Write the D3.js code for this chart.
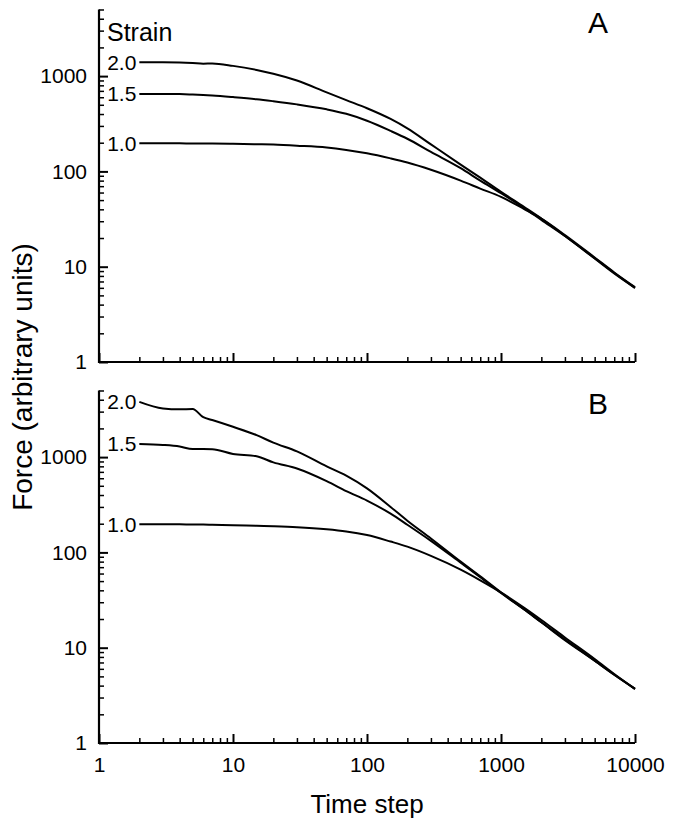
<!DOCTYPE html>
<html>
<head>
<meta charset="utf-8">
<script src="https://cdn.jsdelivr.net/npm/d3@7"></script>
<style>
  html, body { margin: 0; padding: 0; background: #fff; }
  svg { display: block; }
  text { font-family: "Liberation Sans", Arial, Helvetica, sans-serif; fill: #000; }
</style>
</head>
<body>
<svg id="chart" width="674" height="827"></svg>
<script>
// ---- data ----
const timeSteps = [2,3,4,5,6,7,10,15,20,30,50,70,100,150,200,300,500,700,1000,1500,2000,3000,5000,7000,10000];

const strainLabels = ["2.0", "1.5", "1.0"];

const panelA_2_0 = [1400,1400,1390,1370,1348,1356,1280,1160,1060,900,675,560,460,355,283,192,118,86,61,42,32,21,12.3,8.6,6.0];
const panelA_1_5 = [650,650,648,640,632,625,602,572,545,505,448,402,340,266,220,160,108,80,59,41,31,21,12.2,8.5,6.0];
const panelA_1_0 = [197,197,197,196,196,196,195,193,191,186,178,168,155,137,124,104,80,66,54,40,32,21.5,12.5,8.7,6.1];

const panelB_2_0 = [3800,3240,3170,3200,2620,2450,2080,1700,1420,1150,800,640,470,300,215,140,80,56,38,25,18.5,12,7.3,5.2,3.7];
const panelB_1_5 = [1370,1340,1290,1213,1213,1210,1080,1020,880,760,560,440,350,255,195,132,78,55,37.5,25,18.5,12.2,7.3,5.2,3.7];
const panelB_1_0 = [197,197,197,196,196,195,193,190,188,184,175,166,152,130,115,92,66,51,38,26,19.5,12.8,7.6,5.3,3.7];

const xTickValues = [1, 10, 100, 1000, 10000];
const xTickLabels = ["1", "10", "100", "1000", "10000"];
const yTickValues = [1, 10, 100, 1000];
const yTickLabels = ["1", "10", "100", "1000"];

const panels = [
  { letter: "A", series: [panelA_2_0, panelA_1_5, panelA_1_0], showX: false, showStrain: true },
  { letter: "B", series: [panelB_2_0, panelB_1_5, panelB_1_0], showX: true, showStrain: false }
];

// ---- layout ----
const svg = d3.select("#chart");
const xLeft = 99, xRight = 635;
const decade = 95.3;
const panelBottoms = [362, 743];

const x = d3.scaleLog().domain([1, 10000]).range([xLeft, xRight]);

const minorX = [];
for (let d = 1; d < 10000; d *= 10) for (let k = 2; k <= 9; k++) minorX.push(d * k);
const minorY = [];
for (let d = 1; d < 1000; d *= 10) for (let k = 2; k <= 9; k++) minorY.push(d * k);
minorY.push(2000, 3000, 4000, 5000);

panels.forEach((p, i) => {
  const yb = panelBottoms[i];
  const y = d3.scaleLog().domain([1, 5000]).range([yb, yb - decade * Math.log10(5000)]);
  const g = svg.append("g");

  // y axis - major
  const yMaj = g.append("g").attr("transform", `translate(${xLeft},0)`)
    .call(d3.axisLeft(y).tickValues(yTickValues).tickFormat((d, j) => yTickLabels[j])
      .tickSize(-9).tickPadding(12));
  yMaj.select(".domain").remove();
  yMaj.selectAll("line").attr("stroke", "#000").attr("stroke-width", 2);
  yMaj.selectAll("text").attr("font-size", 21).attr("font-family", "Liberation Sans, Arial, sans-serif");

  // y axis - minor
  const yMin = g.append("g").attr("transform", `translate(${xLeft},0)`)
    .call(d3.axisLeft(y).tickValues(minorY).tickFormat("").tickSize(-5));
  yMin.select(".domain").remove();
  yMin.selectAll("line").attr("stroke", "#000").attr("stroke-width", 1.5);

  // x axis - major
  const xMaj = g.append("g").attr("transform", `translate(0,${yb})`)
    .call(d3.axisBottom(x).tickValues(xTickValues)
      .tickFormat((d, j) => p.showX ? xTickLabels[j] : "")
      .tickSize(-9).tickPadding(14));
  xMaj.select(".domain").remove();
  xMaj.selectAll("line").attr("stroke", "#000").attr("stroke-width", 2);
  xMaj.selectAll("text").attr("font-size", 21).attr("font-family", "Liberation Sans, Arial, sans-serif");

  const xMin = g.append("g").attr("transform", `translate(0,${yb})`)
    .call(d3.axisBottom(x).tickValues(minorX).tickFormat("").tickSize(-5));
  xMin.select(".domain").remove();
  xMin.selectAll("line").attr("stroke", "#000").attr("stroke-width", 1.5);

  // axis lines
  g.append("path")
    .attr("d", `M${xLeft},${y(5000)}V${yb}H${xRight}`)
    .attr("fill", "none").attr("stroke", "#000").attr("stroke-width", 2.2);

  // curves
  const line = d3.line().curve(d3.curveMonotoneX)
    .x((d, j) => x(timeSteps[j])).y(d => y(d));
  p.series.forEach((s, k) => {
    g.append("path").datum(s).attr("d", line)
      .attr("fill", "none").attr("stroke", "#000").attr("stroke-width", 2)
      .attr("stroke-linejoin", "round");
    g.append("text")
      .attr("x", x(timeSteps[0]) - 3).attr("y", y(s[0]))
      .attr("dy", "0.35em").attr("text-anchor", "end")
      .attr("font-size", 21).text(strainLabels[k]);
  });

  // panel letter
  g.append("text").attr("x", 598).attr("y", yb - 329)
    .attr("text-anchor", "middle").attr("font-size", 30).text(p.letter);

  if (p.showStrain) {
    g.append("text").attr("x", 107).attr("y", 41).attr("font-size", 25).text("Strain");
  }
});

// axis titles
svg.append("text").attr("x", x(100)).attr("y", 813)
  .attr("text-anchor", "middle").attr("font-size", 26).text("Time step");
svg.append("text")
  .attr("transform", `translate(22,377) rotate(-90)`)
  .attr("dy", "0.35em")
  .attr("text-anchor", "middle").attr("font-size", 28).text("Force (arbitrary units)");
</script>
</body>
</html>
